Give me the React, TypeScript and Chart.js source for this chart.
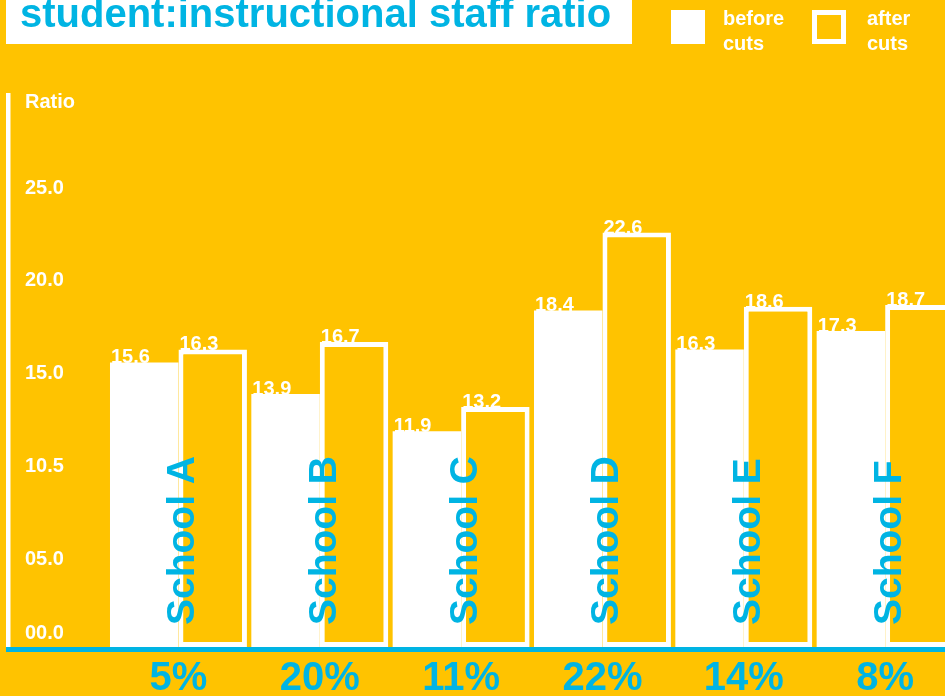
import React, { useEffect, useRef } from "react";
import { Chart, registerables } from "chart.js";

Chart.register(...registerables);

const CATEGORIES = ["School A", "School B", "School C", "School D", "School E", "School F"];
const BEFORE_CUTS = [15.6, 13.9, 11.9, 18.4, 16.3, 17.3];
const AFTER_CUTS = [16.3, 16.7, 13.2, 22.6, 18.6, 18.7];
const CUT_PERCENT = ["5%", "20%", "11%", "22%", "14%", "8%"];
const Y_TICKS = [0, 5, 10, 15, 20, 25];
const Y_TICK_LABELS = ["00.0", "05.0", "10.5", "15.0", "20.0", "25.0"];
const TITLE = "student:instructional staff ratio";
const AXIS_TITLE = "Ratio";
const LEGEND_BEFORE = ["before", "cuts"];
const LEGEND_AFTER = ["after", "cuts"];

const YELLOW = "#ffc300";
const BLUE = "#00b4e3";
const WHITE = "#ffffff";
const FONT = '"Liberation Sans", Arial, Helvetica, sans-serif';

const decoPlugin = {
  id: "deco",
  afterDatasetsDraw(chart: any) {
    const ctx = chart.ctx as CanvasRenderingContext2D;
    const area = chart.chartArea;
    const yScale = chart.scales.y;
    const xScale = chart.scales.x;
    ctx.save();

    // value labels above bars
    ctx.fillStyle = WHITE;
    ctx.font = `bold 20px ${FONT}`;
    ctx.textAlign = "left";
    ctx.textBaseline = "alphabetic";
    chart.data.datasets.forEach((ds: any, di: number) => {
      const meta = chart.getDatasetMeta(di);
      meta.data.forEach((bar: any, i: number) => {
        const left = bar.x - bar.width / 2;
        ctx.fillText(Number(ds.data[i]).toFixed(1), left + 1, bar.y + 1);
      });
    });

    // blue baseline
    ctx.fillStyle = BLUE;
    ctx.fillRect(6, area.bottom - 5, chart.width, 5);

    // white y axis line
    ctx.fillStyle = WHITE;
    ctx.fillRect(6, 93, 4.5, area.bottom - 5 - 93);

    // y tick labels
    ctx.font = `bold 20px ${FONT}`;
    ctx.textBaseline = "middle";
    ctx.textAlign = "left";
    Y_TICKS.forEach((v, i) => {
      const py = Math.min(yScale.getPixelForValue(v), area.bottom - 19);
      ctx.fillText(Y_TICK_LABELS[i], 25, py);
    });
    ctx.fillText(AXIS_TITLE, 25, 102);

    // school names (rotated) and percentages
    CATEGORIES.forEach((name, i) => {
      const cx = xScale.getPixelForValue(i);
      ctx.save();
      ctx.translate(cx + 2, 625);
      ctx.rotate(-Math.PI / 2);
      ctx.fillStyle = BLUE;
      ctx.font = `bold 39px ${FONT}`;
      ctx.textAlign = "left";
      ctx.textBaseline = "alphabetic";
      ctx.fillText(name, 0, 14);
      ctx.restore();

      ctx.fillStyle = BLUE;
      ctx.font = `bold 40px ${FONT}`;
      ctx.textAlign = "center";
      ctx.textBaseline = "alphabetic";
      ctx.fillText(CUT_PERCENT[i], cx, 690);
    });

    // title box
    ctx.fillStyle = WHITE;
    ctx.fillRect(6, 0, 626, 44);
    ctx.fillStyle = BLUE;
    ctx.font = `bold 40px ${FONT}`;
    ctx.textAlign = "left";
    ctx.textBaseline = "alphabetic";
    ctx.fillText(TITLE, 20, 27);

    // legend
    ctx.fillStyle = WHITE;
    ctx.fillRect(671, 10, 34, 34);
    ctx.strokeStyle = WHITE;
    ctx.lineWidth = 5;
    ctx.strokeRect(814.5, 12.5, 29, 29);
    ctx.font = `bold 20px ${FONT}`;
    ctx.textAlign = "left";
    ctx.fillText(LEGEND_BEFORE[0], 723, 25);
    ctx.fillText(LEGEND_BEFORE[1], 723, 50);
    ctx.fillText(LEGEND_AFTER[0], 867, 25);
    ctx.fillText(LEGEND_AFTER[1], 867, 50);

    ctx.restore();
  },
};

export default function App() {
  const canvasRef = useRef<HTMLCanvasElement | null>(null);

  useEffect(() => {
    const canvas = canvasRef.current;
    if (!canvas) return;
    const chart = new Chart(canvas, {
      type: "bar",
      data: {
        labels: CATEGORIES,
        datasets: [
          {
            label: "before cuts",
            data: BEFORE_CUTS,
            backgroundColor: WHITE,
            borderWidth: 0,
            categoryPercentage: 0.969,
            barPercentage: 1,
          },
          {
            label: "after cuts",
            data: AFTER_CUTS,
            backgroundColor: YELLOW,
            borderColor: WHITE,
            borderWidth: { top: 5, left: 5, right: 5, bottom: 10 },
            borderSkipped: false,
            categoryPercentage: 0.969,
            barPercentage: 1,
          },
        ],
      },
      options: {
        responsive: false,
        animation: false,
        events: [],
        devicePixelRatio: 1,
        layout: { padding: { left: 107.8, right: 4.2, top: 188, bottom: 44 } },
        plugins: {
          legend: { display: false },
          tooltip: { enabled: false },
          title: { display: false },
        },
        scales: {
          x: { display: false, offset: true },
          y: { display: false, min: 0, max: 25 },
        },
      },
      plugins: [decoPlugin],
    } as any);
    return () => chart.destroy();
  }, []);

  return (
    <div
      style={{
        position: "fixed",
        left: 0,
        top: 0,
        width: 945,
        height: 696,
        overflow: "hidden",
        background: YELLOW,
      }}
    >
      <canvas ref={canvasRef} width={960} height={696} style={{ width: 960, height: 696, display: "block" }} />
    </div>
  );
}
